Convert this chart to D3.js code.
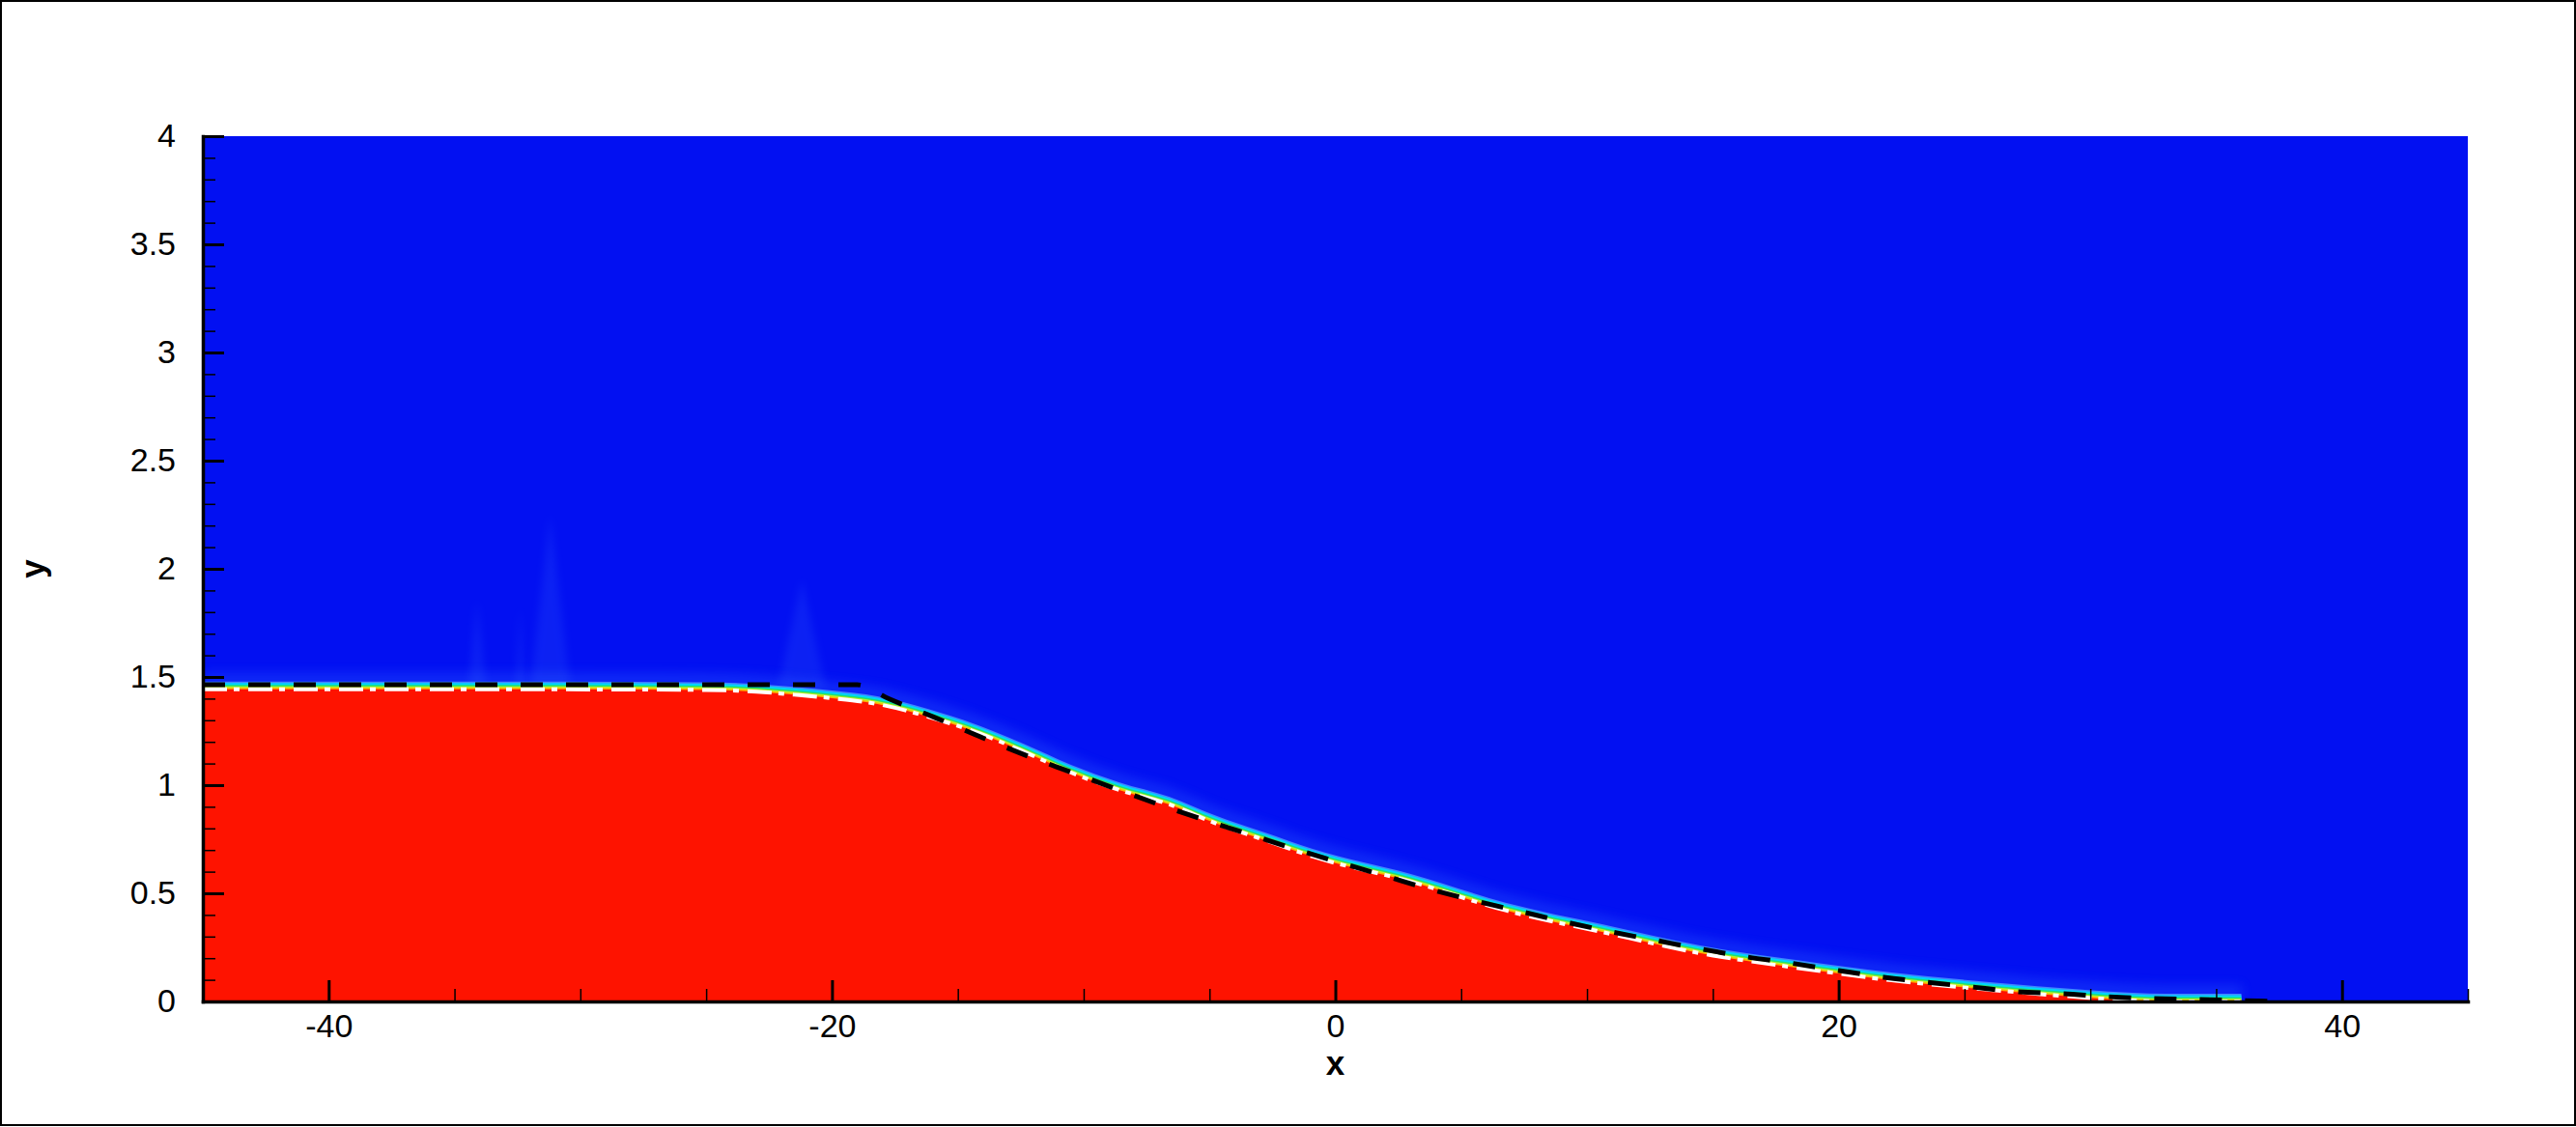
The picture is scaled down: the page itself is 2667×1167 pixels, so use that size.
<!DOCTYPE html>
<html>
<head>
<meta charset="utf-8">
<script src="https://cdn.jsdelivr.net/npm/d3@7"></script>
<style>
body { margin: 0; background: #fff; }
</style>
</head>
<body>
<div id="chart-area"></div>
<script>
// computed free surface (top of the red phase)
var surfX = [-45, -35, -28, -25, -23, -21.5, -20, -18.2, -16.2, -14.3, -12.4, -10.5, -8.6, -6.6, -4.7, -2.8, -0.9, 3, 6.8, 10.6, 14.5, 18.3, 22.1, 26, 29.8, 31.7, 33, 36, 39, 45];
var surfY = [1.443, 1.443, 1.442, 1.44, 1.432, 1.418, 1.402, 1.375, 1.317, 1.246, 1.156, 1.058, 0.978, 0.911, 0.821, 0.746, 0.670, 0.554, 0.420, 0.321, 0.223, 0.156, 0.098, 0.054, 0.018, 0.004, 0, 0, 0, 0];

// reference profile (black dashed)
var refX = [-45, -19, -17.7, -15.9, -14.1, -12.3, -10.55, -8.7, -6.9, -5.1, -3.3, -1.5, 0.3, 2.1, 3.8, 5.6, 7.4, 9.2, 11, 12.8, 14.6, 16.4, 18, 20, 21.8, 23.5, 25.3, 27.1, 28.9, 30.7, 32.5, 34.3, 36.1, 37.5];
var refY = [1.464, 1.464, 1.397, 1.312, 1.223, 1.138, 1.062, 0.982, 0.906, 0.835, 0.768, 0.701, 0.638, 0.576, 0.518, 0.464, 0.415, 0.366, 0.321, 0.281, 0.241, 0.205, 0.179, 0.143, 0.112, 0.089, 0.067, 0.045, 0.036, 0.022, 0.013, 0.009, 0.004, 0.0];

// faint spurious plumes above the flat part
var plumeX = [-34.1, -32.4, -31.2, -21.2];
var plumeW = [0.7, 0.35, 1.6, 1.9];
var plumeTop = [1.86, 1.83, 2.25, 1.95];

var xTicks = [-40, -20, 0, 20, 40];
var xTickLabels = ["-40", "-20", "0", "20", "40"];
var yTicks = [0, 0.5, 1, 1.5, 2, 2.5, 3, 3.5, 4];
var yTickLabels = ["0", "0.5", "1", "1.5", "2", "2.5", "3", "3.5", "4"];

var margin = {top: 141, right: 112, bottom: 130, left: 210};
var W = 2667, H = 1167;
var width = W - margin.left - margin.right;
var height = H - margin.top - margin.bottom;
var font = "'Liberation Sans', Arial, Helvetica, sans-serif";

var svg = d3.select("#chart-area")
    .append("svg")
    .attr("width", W)
    .attr("height", H);

svg.append("rect")
    .attr("x", 1).attr("y", 1)
    .attr("width", W - 2).attr("height", H - 3)
    .attr("fill", "none")
    .attr("stroke", "black")
    .attr("stroke-width", 2);

var defs = svg.append("defs");
defs.append("clipPath").attr("id", "plotclip")
    .append("rect").attr("width", width).attr("height", height);
defs.append("filter").attr("id", "glow")
    .attr("x", "-5%").attr("y", "-50%").attr("width", "110%").attr("height", "200%")
    .append("feGaussianBlur").attr("stdDeviation", 6);
defs.append("filter").attr("id", "soft")
    .attr("x", "-100%").attr("y", "-20%").attr("width", "300%").attr("height", "140%")
    .append("feGaussianBlur").attr("stdDeviation", 4);

var g = svg.append("g")
    .attr("transform", "translate(" + margin.left + ", " + margin.top + ")");

var x = d3.scaleLinear().domain([-45, 45]).range([0, width]);
var y = d3.scaleLinear().domain([0, 4]).range([height, 0]);

var surf = surfX.map((d, i) => ({x: d, y: surfY[i]}));
var ref = refX.map((d, i) => ({x: d, y: refY[i]}));

var field = g.append("g").attr("clip-path", "url(#plotclip)");

// air phase
field.append("rect")
    .attr("width", width).attr("height", height)
    .attr("fill", "#0210f2");

var line = d3.line()
    .x((d) => x(d.x))
    .y((d) => y(d.y))
    .curve(d3.curveMonotoneX);

// soft halo above the surface
field.append("path")
    .datum(surf.filter((d) => d.x <= 36))
    .attr("d", line)
    .attr("transform", "translate(0,-10)")
    .attr("fill", "none")
    .attr("stroke", "#2a5cff")
    .attr("stroke-width", 12)
    .attr("opacity", 0.4)
    .attr("filter", "url(#glow)");

// plumes
field.selectAll(".plume")
    .data(plumeX)
    .enter().append("path")
    .attr("class", "plume")
    .attr("d", (d, i) => "M" + x(d - plumeW[i] / 2) + "," + y(1.45) +
        "L" + x(d) + "," + y(plumeTop[i]) +
        "L" + x(d + plumeW[i] / 2) + "," + y(1.45) + "Z")
    .attr("fill", "#4a8cff")
    .attr("opacity", 0.14)
    .attr("filter", "url(#soft)");

// colour transition of the volume fraction across the interface
var bands = [
    {off: 8, c: "#3f86ff"},
    {off: 6.5, c: "#00d4ff"},
    {off: 4.5, c: "#20e070"},
    {off: 3, c: "#c0f020"},
    {off: 1.5, c: "#ffb000"}
];
bands.forEach((b) => {
    var area = d3.area()
        .defined((d) => d.x <= 36)
        .x((d) => x(d.x))
        .y0(height)
        .y1((d) => y(d.y) - b.off)
        .curve(d3.curveMonotoneX);
    field.append("path").datum(surf).attr("d", area).attr("fill", b.c);
});

// water phase
var waterArea = d3.area()
    .x((d) => x(d.x))
    .y0(height)
    .y1((d) => y(d.y))
    .curve(d3.curveMonotoneX);
field.append("path").datum(surf).attr("d", waterArea).attr("fill", "#fe1300");

// white dash-dot interface line
field.append("path")
    .datum(surf.filter((d) => d.x <= 38))
    .attr("d", line)
    .attr("fill", "none")
    .attr("stroke", "white")
    .attr("stroke-width", 4)
    .attr("stroke-dasharray", "25 7 6 9");

// black dashed reference
field.append("path")
    .datum(ref)
    .attr("d", d3.line().x((d) => x(d.x)).y((d) => y(d.y)).curve(d3.curveMonotoneX))
    .attr("fill", "none")
    .attr("stroke", "black")
    .attr("stroke-width", 5)
    .attr("stroke-dasharray", "23 24");

// axes
var xMinor = d3.range(-45, 45.01, 5).filter((d) => xTicks.indexOf(d) < 0);
var yMinor = d3.range(0, 41, 1).map((d) => d / 10).filter((d) => Math.round(d * 10) % 5 != 0);

var xMinorGroup = g.append("g")
    .attr("transform", "translate(0, " + height + ")")
    .call(d3.axisBottom(x).tickValues(xMinor).tickFormat("").tickSizeInner(-13).tickSizeOuter(0));
xMinorGroup.select(".domain").remove();
xMinorGroup.selectAll("line").attr("stroke-width", 1.5);

var yMinorGroup = g.append("g")
    .call(d3.axisLeft(y).tickValues(yMinor).tickFormat("").tickSizeInner(-13).tickSizeOuter(0));
yMinorGroup.select(".domain").remove();
yMinorGroup.selectAll("line").attr("stroke-width", 1.5);

var xAxisGroup = g.append("g")
    .attr("transform", "translate(0, " + height + ")")
    .call(d3.axisBottom(x).tickValues(xTicks)
        .tickFormat((d, i) => xTickLabels[i])
        .tickSizeInner(-22).tickSizeOuter(0).tickPadding(13));

var yAxisGroup = g.append("g")
    .call(d3.axisLeft(y).tickValues(yTicks)
        .tickFormat((d, i) => yTickLabels[i])
        .tickSizeInner(-22).tickSizeOuter(0).tickPadding(28));

[xAxisGroup, yAxisGroup].forEach((ax) => {
    ax.attr("font-family", font).attr("font-size", 34);
    ax.select(".domain").attr("stroke-width", 3.5).attr("stroke-linecap", "square");
    ax.selectAll(".tick line").attr("stroke-width", 3);
    ax.selectAll("text").attr("fill", "black");
});

g.append("text")
    .attr("x", x(0))
    .attr("y", height + 76)
    .attr("font-family", font)
    .attr("font-size", 35)
    .attr("font-weight", "bold")
    .attr("text-anchor", "middle")
    .text("x");

g.append("text")
    .attr("transform", "translate(" + (46 - margin.left) + ", " + (height / 2) + ") rotate(-90)")
    .attr("font-family", font)
    .attr("font-size", 35)
    .attr("font-weight", "bold")
    .attr("text-anchor", "middle")
    .text("y");
</script>
</body>
</html>
